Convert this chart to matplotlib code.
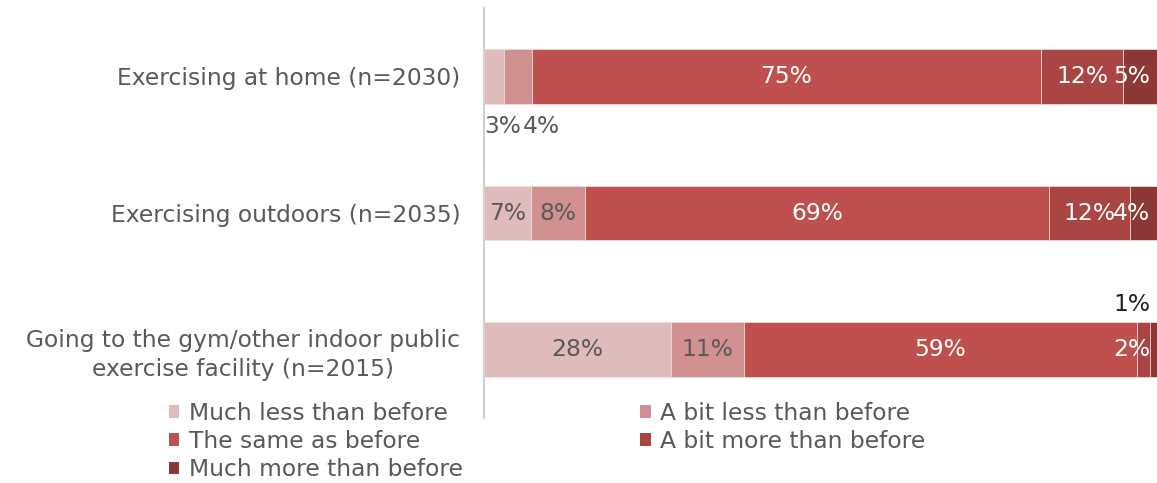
import matplotlib.pyplot as plt
from matplotlib.patches import Patch

# categories (top to bottom)
categories = ['Exercising at home (n=2030)',
              'Exercising outdoors (n=2035)',
              'Going to the gym/other indoor public\nexercise facility (n=2015)']

# answer options and their share (%) per category
answers = ['Much less than before', 'A bit less than before', 'The same as before',
           'A bit more than before', 'Much more than before']
much_less = [3, 7, 28]
bit_less = [4, 8, 11]
same = [75, 69, 59]
bit_more = [12, 12, 2]
much_more = [5, 4, 1]

colors = ['#E0BBBB', '#D09190', '#C0504D', '#A94643', '#8C3836']
text_colors = ['#595959', '#595959', 'white', 'white', 'white']

plt.rcParams['font.family'] = ['DejaVu Sans']
grey = '#595959'
fs = 16.8

fig = plt.figure(figsize=(11.57, 4.83), dpi=100)
ax = fig.add_axes([0.4183, 0.1346, 0.5817, 0.8488])

series = [much_less, bit_less, same, bit_more, much_more]
totals = [sum(s[i] for s in series) for i in range(len(categories))]
ypos = list(range(len(categories)))

left = [0.0] * len(categories)
for k, vals in enumerate(series):
    widths = [v / t * 100 for v, t in zip(vals, totals)]
    ax.barh(ypos, widths, left=left, height=0.4, color=colors[k],
            edgecolor='#F0E0E0', linewidth=0.5, label=answers[k])
    for i, (v, w) in enumerate(zip(vals, widths)):
        lab = f'{v}%'
        cx = left[i] + w / 2
        if i == 0 and k < 2:
            # small segments of first row: labels under the bar
            ax.text(left[i] + (0 if k == 0 else 2.8), i + 0.37, lab,
                    ha='left', va='center', color=grey, fontsize=fs)
        elif i == 2 and k == 4:
            ax.text(99, i - 0.33, lab, ha='right', va='center', color='#222222', fontsize=fs)
        elif k >= 3 and w < 6:
            ax.text(99, i, lab, ha='right', va='center', color=text_colors[k], fontsize=fs)
        else:
            ax.text(cx, i, lab, ha='center', va='center', color=text_colors[k], fontsize=fs)
    left = [l + w for l, w in zip(left, widths)]

ax.set_xlim(0, 100)
ax.set_ylim(2.5, -0.5)
ax.set_yticks(ypos)
ax.set_yticklabels(categories, fontsize=fs, color=grey, multialignment='center',
                   linespacing=1.3)
ax.tick_params(axis='y', length=0, pad=17)
ax.set_xticks([])
for s in ['top', 'right', 'bottom']:
    ax.spines[s].set_visible(False)
ax.spines['left'].set_color('#D0D0D0')
ax.spines['left'].set_linewidth(1.5)

# legend, row-major order in two columns
order = [0, 2, 4, 1, 3]
handles = [Patch(facecolor=colors[k], label=answers[k]) for k in order]
fig.legend(handles=handles, ncol=2, loc='upper left', bbox_to_anchor=(0.146, 0.168),
           frameon=False, fontsize=fs, labelcolor=grey, handlelength=0.45,
           handleheight=0.45, handletextpad=0.4, columnspacing=7.6,
           labelspacing=0.22, borderpad=0, borderaxespad=0)

fig.savefig('out.png', dpi=100)
